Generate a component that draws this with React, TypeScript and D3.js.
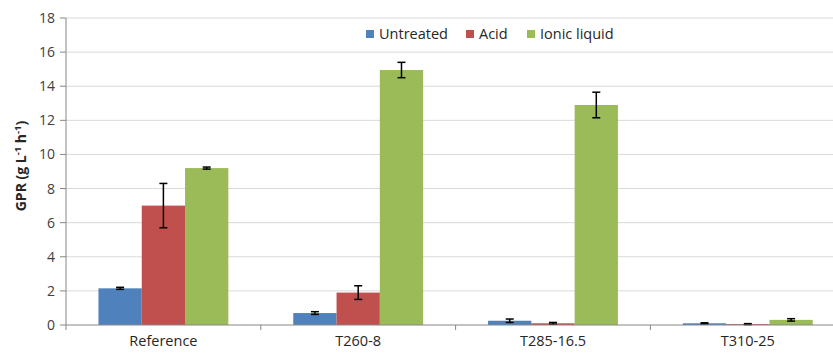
import React from "react";
import * as d3 from "d3";

const categories = ["Reference", "T260-8", "T285-16.5", "T310-25"];
const seriesNames = ["Untreated", "Acid", "Ionic liquid"];
const untreated = [2.15, 0.7, 0.25, 0.1];
const acid = [7.0, 1.9, 0.1, 0.05];
const ionic = [9.2, 14.95, 12.9, 0.3];
const untreatedErr = [0.06, 0.08, 0.1, 0.03];
const acidErr = [1.3, 0.4, 0.05, 0.03];
const ionicErr = [0.06, 0.45, 0.75, 0.07];
const yTicks = [0, 2, 4, 6, 8, 10, 12, 14, 16, 18];
const colors = ["#4F81BD", "#C0504D", "#9BBB59"];

export default function App() {
  const W = 833, H = 353;
  const left = 66, top = 18, bottom = 325;
  const catW = 194.8;
  const right = left + catW * 4;
  const values = [untreated, acid, ionic];
  const errs = [untreatedErr, acidErr, ionicErr];
  const x = d3.scaleBand().domain(categories).range([left, right]).paddingInner(0).paddingOuter(0);
  const y = d3.scaleLinear().domain([0, 18]).range([bottom, top]);
  const barW = catW * 2 / 9;
  const gap = (catW - 3 * barW) / 2;
  const font = "'Open Sans', 'Noto Sans', sans-serif";
  return (
    <svg width={W} height={H} style={{ position: "absolute", left: 0, top: 0, background: "#fff" }}>
      {yTicks.map((t) => (
        <g key={t}>
          {t > 0 && <line x1={left} x2={right} y1={y(t)} y2={y(t)} stroke="#d9d9d9" strokeWidth={1} />}
          <line x1={left - 6} x2={left} y1={y(t)} y2={y(t)} stroke="#868686" />
          <text x={left - 11} y={y(t)} dy="0.36em" textAnchor="end" fontFamily={font} fontSize={14} fill="#404040">{t}</text>
        </g>
      ))}
      {categories.map((c, i) =>
        values.map((vals, s) => {
          const bx = (x(c) as number) + gap + s * barW;
          const v = vals[i];
          const e = errs[s][i];
          const cx = bx + barW / 2;
          return (
            <g key={c + s}>
              <rect x={bx} y={y(v)} width={barW} height={bottom - y(v)} fill={colors[s]} />
              <line x1={cx} x2={cx} y1={y(v + e)} y2={y(Math.max(0, v - e))} stroke="#000" strokeWidth={1.5} />
              <line x1={cx - 4} x2={cx + 4} y1={y(v + e)} y2={y(v + e)} stroke="#000" strokeWidth={1.5} />
              <line x1={cx - 4} x2={cx + 4} y1={y(Math.max(0, v - e))} y2={y(Math.max(0, v - e))} stroke="#000" strokeWidth={1.5} />
            </g>
          );
        })
      )}
      <line x1={left} x2={left} y1={top} y2={bottom} stroke="#868686" />
      <line x1={left} x2={right} y1={bottom} y2={bottom} stroke="#868686" />
      {[0, 1, 2, 3, 4].map((k) => (
        <line key={k} x1={left + k * catW} x2={left + k * catW} y1={bottom} y2={bottom + 5} stroke="#868686" />
      ))}
      {categories.map((c) => (
        <text key={c} x={(x(c) as number) + catW / 2} y={346} textAnchor="middle" fontFamily={font} fontSize={14.5} fill="#262626">{c}</text>
      ))}
      <text transform={`translate(26,166) rotate(-90)`} textAnchor="middle" fontFamily={font} fontSize={14} fontWeight="bold" fill="#262626">
        GPR (g L<tspan dy="-5" fontSize={9.5}>-1</tspan><tspan dy="5"> h</tspan><tspan dy="-5" fontSize={9.5}>-1</tspan><tspan dy="5">)</tspan>
      </text>
      {[
        { name: "Untreated", sx: 366, tx: 379 },
        { name: "Acid", sx: 466, tx: 479 },
        { name: "Ionic liquid", sx: 527, tx: 540 },
      ].map((l, i) => (
        <g key={l.name}>
          <rect x={l.sx} y={30} width={8} height={8} fill={colors[i]} />
          <text x={l.tx} y={34} dy="0.36em" fontFamily={font} fontSize={14.5} fill="#262626">{l.name}</text>
        </g>
      ))}
    </svg>
  );
}
